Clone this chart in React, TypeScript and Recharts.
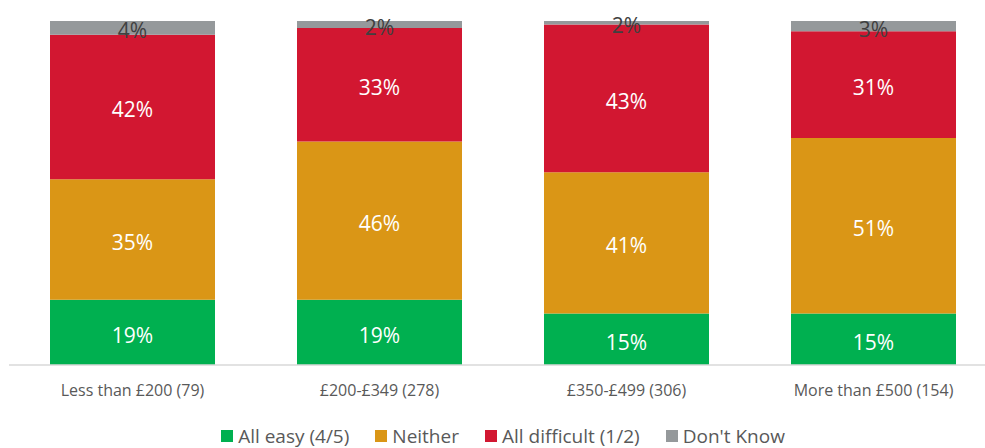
import { BarChart, Bar, XAxis, YAxis, Legend, LabelList } from "recharts";

const categories = ["Less than £200 (79)", "£200-£349 (278)", "£350-£499 (306)", "More than £500 (154)"];
const allEasy = [19, 19, 15, 15];
const neither = [35, 46, 41, 51];
const allDifficult = [42, 33, 43, 31];
const dontKnow = [4, 2, 2, 3];

const series = [
  { key: "easy", name: "All easy (4/5)", color: "#00B050", labelColor: "#FFFFFF" },
  { key: "neither", name: "Neither", color: "#DA9616", labelColor: "#FFFFFF" },
  { key: "difficult", name: "All difficult (1/2)", color: "#D21731", labelColor: "#FFFFFF" },
  { key: "dk", name: "Don't Know", color: "#95999B", labelColor: "#404040" },
];

const data = categories.map((name, i) => ({
  name,
  easy: allEasy[i],
  neither: neither[i],
  difficult: allDifficult[i],
  dk: dontKnow[i],
}));

const FONT = "'Open Sans', sans-serif";

const LegendContent = () => (
  <div
    style={{
      display: "flex",
      justifyContent: "center",
      alignItems: "center",
      height: 30,
      fontFamily: FONT,
      fontSize: 19,
      color: "#595959",
      paddingTop: 6,
      boxSizing: "border-box",
    }}
  >
    {series.map((s) => (
      <div key={s.key} style={{ display: "flex", alignItems: "center", margin: "0 13px" }}>
        <span style={{ width: 12, height: 12, background: s.color, marginRight: 5, display: "inline-block" }} />
        <span>{s.name}</span>
      </div>
    ))}
  </div>
);

const App = () => {
  return (
    <div style={{ position: "absolute", left: 0, top: 0, width: 985, height: 448, overflow: "hidden", background: "#fff" }}>
      <BarChart
        width={1000}
        height={448}
        data={data}
        margin={{ top: 21, right: 3, left: 9, bottom: 0 }}
        barCategoryGap="16.6%"
      >
        <XAxis
          dataKey="name"
          tickLine={false}
          tickSize={0}
          tickMargin={20}
          height={53}
          axisLine={{ stroke: "#D9D9D9", strokeWidth: 1.5 }}
          tick={{ fontSize: 16, fill: "#595959", fontFamily: FONT }}
          interval={0}
        />
        <YAxis hide domain={[0, 100]} allowDataOverflow />
        <Legend verticalAlign="bottom" height={30} content={<LegendContent />} />
        {series.map((s) => (
          <Bar key={s.key} dataKey={s.key} name={s.name} stackId="a" fill={s.color} isAnimationActive={false}>
            <LabelList
              dataKey={s.key}
              position="center"
              formatter={(v: any) => `${v}%`}
              offset={0}
              dy={3}
              style={{ fill: s.labelColor, fontSize: 21, fontFamily: FONT }}
            />
          </Bar>
        ))}
      </BarChart>
    </div>
  );
};

export default App;
